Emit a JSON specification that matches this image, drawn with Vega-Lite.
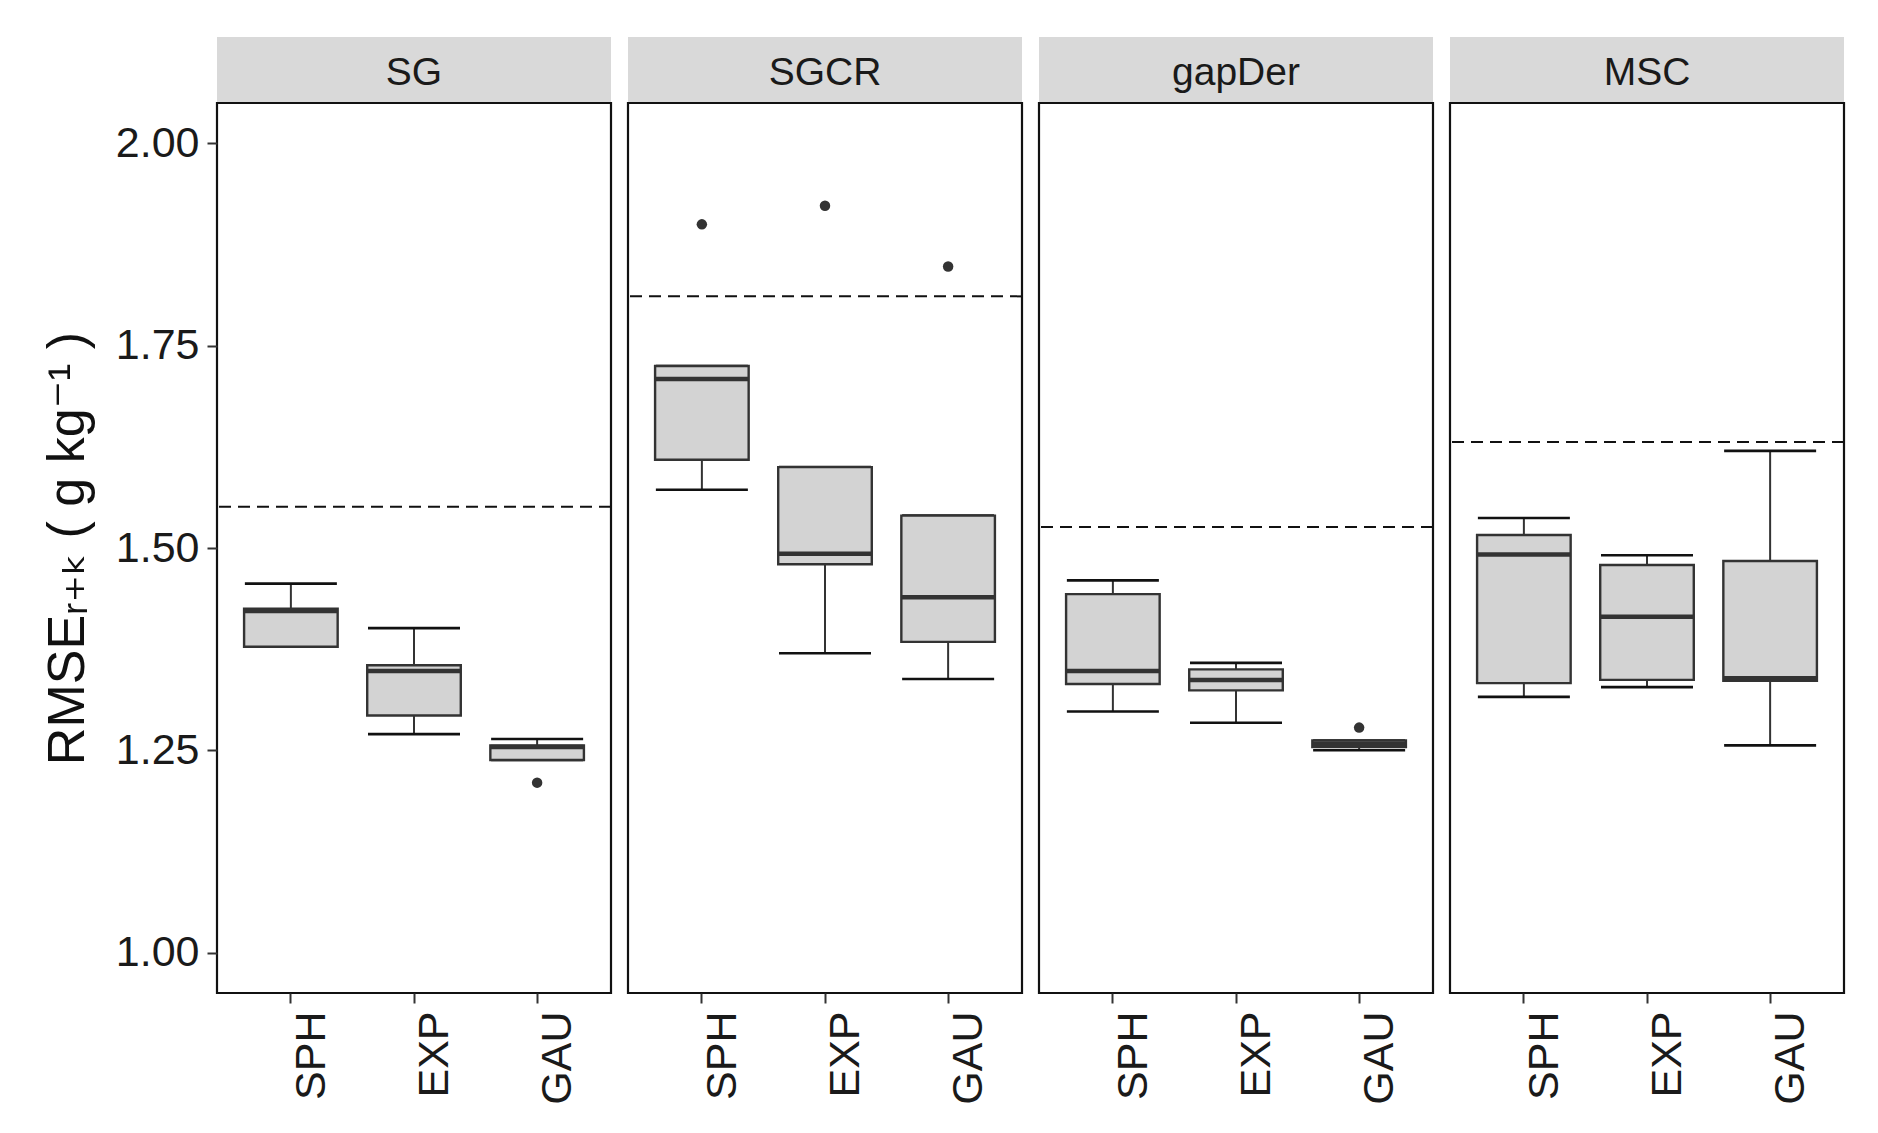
{
  "$schema": "https://vega.github.io/schema/vega-lite/v6.json",
  "background": "white",
  "padding": {"left": 40, "top": 37, "right": 30, "bottom": 10},
  "config": {
    "font": "Liberation Sans, Arial, DejaVu Sans, sans-serif",
    "view": {"stroke": null},
    "tick": {"opacity": 1},
    "axis": {"grid": false, "domain": false, "tickColor": "#333333", "tickWidth": 2, "tickSize": 10, "labelColor": "#1A1A1A", "labelFontSize": 43, "labelPadding": 8}
  },
  "datasets": {
    "stats": [
      {"method": "SG", "model": "SPH", "lower": 1.378, "q1": 1.378, "median": 1.422, "q3": 1.425, "upper": 1.456},
      {"method": "SG", "model": "EXP", "lower": 1.270, "q1": 1.293, "median": 1.348, "q3": 1.355, "upper": 1.401},
      {"method": "SG", "model": "GAU", "lower": 1.238, "q1": 1.238, "median": 1.254, "q3": 1.256, "upper": 1.264},
      {"method": "SGCR", "model": "SPH", "lower": 1.572, "q1": 1.609, "median": 1.709, "q3": 1.725, "upper": 1.725},
      {"method": "SGCR", "model": "EXP", "lower": 1.370, "q1": 1.480, "median": 1.493, "q3": 1.600, "upper": 1.600},
      {"method": "SGCR", "model": "GAU", "lower": 1.338, "q1": 1.384, "median": 1.439, "q3": 1.540, "upper": 1.540},
      {"method": "gapDer", "model": "SPH", "lower": 1.298, "q1": 1.332, "median": 1.348, "q3": 1.443, "upper": 1.460},
      {"method": "gapDer", "model": "EXP", "lower": 1.284, "q1": 1.324, "median": 1.337, "q3": 1.350, "upper": 1.358},
      {"method": "gapDer", "model": "GAU", "lower": 1.250, "q1": 1.254, "median": 1.258, "q3": 1.262, "upper": 1.262},
      {"method": "MSC", "model": "SPH", "lower": 1.316, "q1": 1.333, "median": 1.492, "q3": 1.516, "upper": 1.537},
      {"method": "MSC", "model": "EXP", "lower": 1.328, "q1": 1.337, "median": 1.415, "q3": 1.479, "upper": 1.491},
      {"method": "MSC", "model": "GAU", "lower": 1.256, "q1": 1.336, "median": 1.339, "q3": 1.484, "upper": 1.620}
    ],
    "outliers": [
      {"method": "SG", "model": "GAU", "value": 1.210},
      {"method": "SGCR", "model": "SPH", "value": 1.900},
      {"method": "SGCR", "model": "EXP", "value": 1.923},
      {"method": "SGCR", "model": "GAU", "value": 1.848},
      {"method": "gapDer", "model": "GAU", "value": 1.278}
    ],
    "refs": [
      {"method": "SG", "value": 1.551},
      {"method": "SGCR", "value": 1.811},
      {"method": "gapDer", "value": 1.526},
      {"method": "MSC", "value": 1.631}
    ],
    "strips": [
      {"method": "SG"}, {"method": "SGCR"}, {"method": "gapDer"}, {"method": "MSC"}
    ]
  },
  "resolve": {"scale": {"x": "independent", "y": "independent"}},
  "spacing": 11,
  "hconcat": [
    {
      "spacing": 0, "bounds": "flush",
      "vconcat": [
        {"width": 394, "height": 66, "view": {"fill": "#D9D9D9", "stroke": null},
         "data": {"name": "strips"}, "transform": [{"filter": "datum.method === 'SG'"}],
         "mark": {"type": "text", "fontSize": 39, "color": "#1A1A1A", "baseline": "middle", "dy": 3},
         "encoding": {"text": {"field": "method"}}},
        {"width": 394, "height": 890, "view": {"fill": "white", "stroke": "#111111", "strokeWidth": 2.2},
         "layer": [
          {"data": {"name": "stats"}, "transform": [{"filter": "datum.method === 'SG'"}],
           "mark": {"type": "rule", "color": "#333333", "strokeWidth": 2},
           "encoding": {
             "x": {"field": "model", "type": "nominal", "sort": ["SPH", "EXP", "GAU"], "scale": {"type": "band", "domain": ["SPH", "EXP", "GAU"], "paddingInner": 0, "paddingOuter": 0.1},
                   "axis": {"title": null, "labelAngle": 270, "labelAlign": "right", "labelBaseline": "top"}},
             "y": {"field": "lower", "type": "quantitative", "scale": {"domain": [0.95, 2.05], "nice": false, "zero": false},
                   "axis": {"values": [1, 1.25, 1.5, 1.75, 2], "format": ".2f", "title": "RMSEᵣ₊ₖ ( g kg⁻¹ )", "titleFontSize": 52, "titleFontWeight": "normal", "titleColor": "#111111", "titlePadding": 21}},
             "y2": {"field": "upper"}}},
          {"data": {"name": "stats"}, "transform": [{"filter": "datum.method === 'SG'"}],
           "mark": {"type": "tick", "color": "#111111", "size": 92, "thickness": 2.6, "opacity": 1},
           "encoding": {"x": {"field": "model", "type": "nominal"}, "y": {"field": "lower", "type": "quantitative"}}},
          {"data": {"name": "stats"}, "transform": [{"filter": "datum.method === 'SG'"}],
           "mark": {"type": "tick", "color": "#111111", "size": 92, "thickness": 2.6, "opacity": 1},
           "encoding": {"x": {"field": "model", "type": "nominal"}, "y": {"field": "upper", "type": "quantitative"}}},
          {"data": {"name": "stats"}, "transform": [{"filter": "datum.method === 'SG'"}],
           "mark": {"type": "bar", "fill": "#D3D3D3", "stroke": "#333333", "strokeWidth": 2.4, "width": {"band": 0.76}, "opacity": 1},
           "encoding": {"x": {"field": "model", "type": "nominal"}, "y": {"field": "q1", "type": "quantitative"}, "y2": {"field": "q3"}}},
          {"data": {"name": "stats"}, "transform": [{"filter": "datum.method === 'SG'"}],
           "mark": {"type": "tick", "color": "#333333", "size": 93, "thickness": 4.5, "opacity": 1},
           "encoding": {"x": {"field": "model", "type": "nominal"}, "y": {"field": "median", "type": "quantitative"}}},
          {"data": {"name": "outliers"}, "transform": [{"filter": "datum.method === 'SG'"}],
           "mark": {"type": "circle", "color": "#333333", "opacity": 1, "size": 110},
           "encoding": {"x": {"field": "model", "type": "nominal"}, "y": {"field": "value", "type": "quantitative"}}},
          {"data": {"name": "refs"}, "transform": [{"filter": "datum.method === 'SG'"}],
           "mark": {"type": "rule", "color": "#111111", "strokeWidth": 2, "strokeDash": [12, 7]},
           "encoding": {"y": {"field": "value", "type": "quantitative"}}}
         ]}
      ]
    },
    {
      "spacing": 0, "bounds": "flush",
      "vconcat": [
        {"width": 394, "height": 66, "view": {"fill": "#D9D9D9", "stroke": null},
         "data": {"name": "strips"}, "transform": [{"filter": "datum.method === 'SGCR'"}],
         "mark": {"type": "text", "fontSize": 39, "color": "#1A1A1A", "baseline": "middle", "dy": 3},
         "encoding": {"text": {"field": "method"}}},
        {"width": 394, "height": 890, "view": {"fill": "white", "stroke": "#111111", "strokeWidth": 2.2},
         "layer": [
          {"data": {"name": "stats"}, "transform": [{"filter": "datum.method === 'SGCR'"}],
           "mark": {"type": "rule", "color": "#333333", "strokeWidth": 2},
           "encoding": {
             "x": {"field": "model", "type": "nominal", "sort": ["SPH", "EXP", "GAU"], "scale": {"type": "band", "domain": ["SPH", "EXP", "GAU"], "paddingInner": 0, "paddingOuter": 0.1},
                   "axis": {"title": null, "labelAngle": 270, "labelAlign": "right", "labelBaseline": "top"}},
             "y": {"field": "lower", "type": "quantitative", "scale": {"domain": [0.95, 2.05], "nice": false, "zero": false}, "axis": null},
             "y2": {"field": "upper"}}},
          {"data": {"name": "stats"}, "transform": [{"filter": "datum.method === 'SGCR'"}],
           "mark": {"type": "tick", "color": "#111111", "size": 92, "thickness": 2.6, "opacity": 1},
           "encoding": {"x": {"field": "model", "type": "nominal"}, "y": {"field": "lower", "type": "quantitative", "axis": null}}},
          {"data": {"name": "stats"}, "transform": [{"filter": "datum.method === 'SGCR'"}],
           "mark": {"type": "tick", "color": "#111111", "size": 92, "thickness": 2.6, "opacity": 1},
           "encoding": {"x": {"field": "model", "type": "nominal"}, "y": {"field": "upper", "type": "quantitative", "axis": null}}},
          {"data": {"name": "stats"}, "transform": [{"filter": "datum.method === 'SGCR'"}],
           "mark": {"type": "bar", "fill": "#D3D3D3", "stroke": "#333333", "strokeWidth": 2.4, "width": {"band": 0.76}, "opacity": 1},
           "encoding": {"x": {"field": "model", "type": "nominal"}, "y": {"field": "q1", "type": "quantitative", "axis": null}, "y2": {"field": "q3"}}},
          {"data": {"name": "stats"}, "transform": [{"filter": "datum.method === 'SGCR'"}],
           "mark": {"type": "tick", "color": "#333333", "size": 93, "thickness": 4.5, "opacity": 1},
           "encoding": {"x": {"field": "model", "type": "nominal"}, "y": {"field": "median", "type": "quantitative", "axis": null}}},
          {"data": {"name": "outliers"}, "transform": [{"filter": "datum.method === 'SGCR'"}],
           "mark": {"type": "circle", "color": "#333333", "opacity": 1, "size": 110},
           "encoding": {"x": {"field": "model", "type": "nominal"}, "y": {"field": "value", "type": "quantitative", "axis": null}}},
          {"data": {"name": "refs"}, "transform": [{"filter": "datum.method === 'SGCR'"}],
           "mark": {"type": "rule", "color": "#111111", "strokeWidth": 2, "strokeDash": [12, 7]},
           "encoding": {"y": {"field": "value", "type": "quantitative", "axis": null}}}
         ]}
      ]
    },
    {
      "spacing": 0, "bounds": "flush",
      "vconcat": [
        {"width": 394, "height": 66, "view": {"fill": "#D9D9D9", "stroke": null},
         "data": {"name": "strips"}, "transform": [{"filter": "datum.method === 'gapDer'"}],
         "mark": {"type": "text", "fontSize": 39, "color": "#1A1A1A", "baseline": "middle", "dy": 3},
         "encoding": {"text": {"field": "method"}}},
        {"width": 394, "height": 890, "view": {"fill": "white", "stroke": "#111111", "strokeWidth": 2.2},
         "layer": [
          {"data": {"name": "stats"}, "transform": [{"filter": "datum.method === 'gapDer'"}],
           "mark": {"type": "rule", "color": "#333333", "strokeWidth": 2},
           "encoding": {
             "x": {"field": "model", "type": "nominal", "sort": ["SPH", "EXP", "GAU"], "scale": {"type": "band", "domain": ["SPH", "EXP", "GAU"], "paddingInner": 0, "paddingOuter": 0.1},
                   "axis": {"title": null, "labelAngle": 270, "labelAlign": "right", "labelBaseline": "top"}},
             "y": {"field": "lower", "type": "quantitative", "scale": {"domain": [0.95, 2.05], "nice": false, "zero": false}, "axis": null},
             "y2": {"field": "upper"}}},
          {"data": {"name": "stats"}, "transform": [{"filter": "datum.method === 'gapDer'"}],
           "mark": {"type": "tick", "color": "#111111", "size": 92, "thickness": 2.6, "opacity": 1},
           "encoding": {"x": {"field": "model", "type": "nominal"}, "y": {"field": "lower", "type": "quantitative", "axis": null}}},
          {"data": {"name": "stats"}, "transform": [{"filter": "datum.method === 'gapDer'"}],
           "mark": {"type": "tick", "color": "#111111", "size": 92, "thickness": 2.6, "opacity": 1},
           "encoding": {"x": {"field": "model", "type": "nominal"}, "y": {"field": "upper", "type": "quantitative", "axis": null}}},
          {"data": {"name": "stats"}, "transform": [{"filter": "datum.method === 'gapDer'"}],
           "mark": {"type": "bar", "fill": "#D3D3D3", "stroke": "#333333", "strokeWidth": 2.4, "width": {"band": 0.76}, "opacity": 1},
           "encoding": {"x": {"field": "model", "type": "nominal"}, "y": {"field": "q1", "type": "quantitative", "axis": null}, "y2": {"field": "q3"}}},
          {"data": {"name": "stats"}, "transform": [{"filter": "datum.method === 'gapDer'"}],
           "mark": {"type": "tick", "color": "#333333", "size": 93, "thickness": 4.5, "opacity": 1},
           "encoding": {"x": {"field": "model", "type": "nominal"}, "y": {"field": "median", "type": "quantitative", "axis": null}}},
          {"data": {"name": "outliers"}, "transform": [{"filter": "datum.method === 'gapDer'"}],
           "mark": {"type": "circle", "color": "#333333", "opacity": 1, "size": 110},
           "encoding": {"x": {"field": "model", "type": "nominal"}, "y": {"field": "value", "type": "quantitative", "axis": null}}},
          {"data": {"name": "refs"}, "transform": [{"filter": "datum.method === 'gapDer'"}],
           "mark": {"type": "rule", "color": "#111111", "strokeWidth": 2, "strokeDash": [12, 7]},
           "encoding": {"y": {"field": "value", "type": "quantitative", "axis": null}}}
         ]}
      ]
    },
    {
      "spacing": 0, "bounds": "flush",
      "vconcat": [
        {"width": 394, "height": 66, "view": {"fill": "#D9D9D9", "stroke": null},
         "data": {"name": "strips"}, "transform": [{"filter": "datum.method === 'MSC'"}],
         "mark": {"type": "text", "fontSize": 39, "color": "#1A1A1A", "baseline": "middle", "dy": 3},
         "encoding": {"text": {"field": "method"}}},
        {"width": 394, "height": 890, "view": {"fill": "white", "stroke": "#111111", "strokeWidth": 2.2},
         "layer": [
          {"data": {"name": "stats"}, "transform": [{"filter": "datum.method === 'MSC'"}],
           "mark": {"type": "rule", "color": "#333333", "strokeWidth": 2},
           "encoding": {
             "x": {"field": "model", "type": "nominal", "sort": ["SPH", "EXP", "GAU"], "scale": {"type": "band", "domain": ["SPH", "EXP", "GAU"], "paddingInner": 0, "paddingOuter": 0.1},
                   "axis": {"title": null, "labelAngle": 270, "labelAlign": "right", "labelBaseline": "top"}},
             "y": {"field": "lower", "type": "quantitative", "scale": {"domain": [0.95, 2.05], "nice": false, "zero": false}, "axis": null},
             "y2": {"field": "upper"}}},
          {"data": {"name": "stats"}, "transform": [{"filter": "datum.method === 'MSC'"}],
           "mark": {"type": "tick", "color": "#111111", "size": 92, "thickness": 2.6, "opacity": 1},
           "encoding": {"x": {"field": "model", "type": "nominal"}, "y": {"field": "lower", "type": "quantitative", "axis": null}}},
          {"data": {"name": "stats"}, "transform": [{"filter": "datum.method === 'MSC'"}],
           "mark": {"type": "tick", "color": "#111111", "size": 92, "thickness": 2.6, "opacity": 1},
           "encoding": {"x": {"field": "model", "type": "nominal"}, "y": {"field": "upper", "type": "quantitative", "axis": null}}},
          {"data": {"name": "stats"}, "transform": [{"filter": "datum.method === 'MSC'"}],
           "mark": {"type": "bar", "fill": "#D3D3D3", "stroke": "#333333", "strokeWidth": 2.4, "width": {"band": 0.76}, "opacity": 1},
           "encoding": {"x": {"field": "model", "type": "nominal"}, "y": {"field": "q1", "type": "quantitative", "axis": null}, "y2": {"field": "q3"}}},
          {"data": {"name": "stats"}, "transform": [{"filter": "datum.method === 'MSC'"}],
           "mark": {"type": "tick", "color": "#333333", "size": 93, "thickness": 4.5, "opacity": 1},
           "encoding": {"x": {"field": "model", "type": "nominal"}, "y": {"field": "median", "type": "quantitative", "axis": null}}},
          {"data": {"name": "outliers"}, "transform": [{"filter": "datum.method === 'MSC'"}],
           "mark": {"type": "circle", "color": "#333333", "opacity": 1, "size": 110},
           "encoding": {"x": {"field": "model", "type": "nominal"}, "y": {"field": "value", "type": "quantitative", "axis": null}}},
          {"data": {"name": "refs"}, "transform": [{"filter": "datum.method === 'MSC'"}],
           "mark": {"type": "rule", "color": "#111111", "strokeWidth": 2, "strokeDash": [12, 7]},
           "encoding": {"y": {"field": "value", "type": "quantitative", "axis": null}}}
         ]}
      ]
    }
  ]
}
